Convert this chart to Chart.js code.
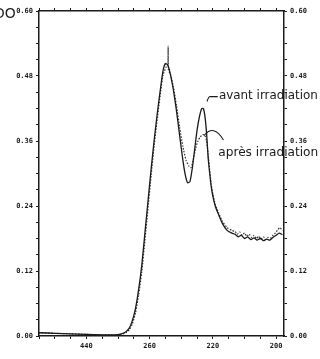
<!DOCTYPE html>
<html>
<head>
<meta charset="utf-8">
<script src="https://cdn.jsdelivr.net/npm/chart.js@4.4.0/dist/chart.umd.min.js"></script>
<style>
  html, body { margin: 0; padding: 0; background: #fff; }
  canvas { display: block; }
</style>
</head>
<body>
<canvas id="spectre" width="320" height="359"></canvas>
<script>
// longueur d'onde (nm) et densite optique
const nmAvant = [330, 320, 310, 300, 290, 282, 278, 275, 273, 271, 269, 267, 265, 263, 261, 259, 257, 255, 253, 251.5, 250, 248.5, 247, 245, 243, 241, 239, 237.5, 236, 234.5, 233, 231.5, 230, 228.5, 227, 226, 225, 224, 223, 222, 221, 220, 218.5, 216.5, 214, 211, 208, 206, 204, 202, 200, 198, 196, 194, 192, 190, 188, 186, 184, 182, 180, 178, 176];
const doAvant = [0.006, 0.005, 0.004, 0.003, 0.002, 0.002, 0.004, 0.008, 0.014, 0.028, 0.05, 0.085, 0.13, 0.19, 0.25, 0.31, 0.365, 0.415, 0.46, 0.49, 0.503, 0.5, 0.485, 0.455, 0.415, 0.37, 0.325, 0.298, 0.283, 0.285, 0.31, 0.345, 0.38, 0.405, 0.42, 0.42, 0.405, 0.375, 0.33, 0.3, 0.275, 0.258, 0.24, 0.225, 0.208, 0.195, 0.19, 0.188, 0.183, 0.186, 0.18, 0.183, 0.178, 0.181, 0.177, 0.18, 0.176, 0.179, 0.177, 0.182, 0.186, 0.19, 0.187];

const nmApres = [330, 320, 310, 300, 290, 282, 278, 275, 273, 271, 269, 267, 265, 263, 261, 259, 257, 255, 253, 251.5, 249.5, 248.5, 248.3, 248.1, 247, 245, 243, 241, 239, 237, 235, 233.8, 232.5, 231, 229.5, 228, 226.5, 225, 224, 223, 222, 221, 220, 218.5, 216.5, 214, 211, 208, 206, 204.5, 203, 201.5, 200, 198.5, 197, 195.5, 194, 192.5, 191, 189.5, 188, 186.5, 185, 183.5, 182, 180.5, 179, 177.5, 176];
const doApres = [0.006, 0.005, 0.004, 0.003, 0.002, 0.002, 0.003, 0.006, 0.011, 0.022, 0.042, 0.075, 0.118, 0.176, 0.237, 0.298, 0.355, 0.405, 0.452, 0.482, 0.497, 0.5, 0.535, 0.49, 0.485, 0.46, 0.425, 0.385, 0.35, 0.325, 0.313, 0.311, 0.325, 0.345, 0.36, 0.367, 0.372, 0.37, 0.36, 0.335, 0.305, 0.28, 0.262, 0.243, 0.228, 0.212, 0.2, 0.195, 0.193, 0.188, 0.192, 0.186, 0.19, 0.184, 0.188, 0.182, 0.186, 0.18, 0.184, 0.179, 0.183, 0.178, 0.182, 0.181, 0.186, 0.19, 0.196, 0.2, 0.194];

// graduations
const xTickValues = [300, 260, 220, 180];
const xTickLabels = ['440', '260', '220', '200'];
const yTickLabels = ['0.00', '0.12', '0.24', '0.36', '0.48', '0.60'];
const labelAvant = 'avant irradiation';
const labelApres = 'après irradiation';
const labelAxe = 'DO';

const tickFont = { family: 'DejaVu Sans Mono', size: 7, weight: 'bold' };
const ink = '#1a1a1a';

const toPoints = (xs, ys) => xs.map((x, i) => ({ x: x, y: ys[i] }));

const xTicks = (scale) => {
    const t = [];
    for (let v = 180; v <= 330; v += 10) t.push({ value: v });
    scale.ticks = t;
};
const yTicks = (scale) => {
    const t = [];
    for (let i = 0; i <= 20; i++) t.push({ value: +(i * 0.03).toFixed(2) });
    scale.ticks = t;
};
const xLabel = (value) => {
    const k = xTickValues.indexOf(value);
    return k >= 0 ? xTickLabels[k] : '';
};
const yLabel = (value, index) => (index % 4 === 0 ? yTickLabels[index / 4] : '');

const axisBase = {
    type: 'linear',
    grid: { drawOnChartArea: false, tickLength: 3, color: ink, lineWidth: 1 },
    border: { color: ink, width: 1.5 },
};

const annotations = {
    id: 'annotations',
    afterDraw(chart) {
        const c = chart.ctx;
        const sx = chart.scales.x, sy = chart.scales.y;
        const px = (v) => sx.getPixelForValue(v);
        const py = (v) => sy.getPixelForValue(v);
        c.save();
        c.strokeStyle = ink;
        c.fillStyle = ink;
        c.lineWidth = 1.1;

        // fleche "avant"
        c.beginPath();
        c.moveTo(px(223.7), py(0.433));
        c.quadraticCurveTo(px(222.6), py(0.443), px(221.5), py(0.442));
        c.lineTo(px(216.9), py(0.442));
        c.stroke();

        // fleche "apres"
        c.beginPath();
        c.moveTo(px(225.6), py(0.370));
        c.quadraticCurveTo(px(219.5), py(0.392), px(213.3), py(0.362));
        c.stroke();

        const writeFit = (txt, x, y, w) => {
            c.font = '13px "DejaVu Sans"';
            c.textBaseline = 'middle';
            const m = c.measureText(txt).width;
            c.save();
            c.translate(x, y);
            c.scale(w / m, 1);
            c.fillText(txt, 0, 0);
            c.restore();
        };
        writeFit(labelAvant, px(216.2), py(0.443), 99);
        writeFit(labelApres, px(216.6), py(0.339), 100);

        c.font = '14px "DejaVu Sans"';
        c.textBaseline = 'middle';
        c.fillText(labelAxe, -6, 14);
        c.restore();
    }
};

const ctx = document.getElementById('spectre').getContext('2d');

new Chart(ctx, {
    type: 'line',
    data: {
        datasets: [{
            label: labelAvant,
            data: toPoints(nmAvant, doAvant),
            borderColor: ink,
            borderWidth: 1.3,
            pointRadius: 0,
            tension: 0.2,
            fill: false,
        }, {
            label: labelApres,
            data: toPoints(nmApres, doApres),
            borderColor: '#333',
            borderWidth: 1.2,
            borderDash: [1.5, 1.5],
            pointRadius: 0,
            tension: 0.2,
            fill: false,
        }]
    },
    options: {
        responsive: false,
        animation: false,
        parsing: false,
        layout: { padding: 0 },
        plugins: { legend: { display: false }, tooltip: { enabled: false } },
        scales: {
            x: {
                ...axisBase, position: 'bottom', reverse: true, min: 175, max: 330,
                afterBuildTicks: xTicks,
                afterFit: (s) => { s.height = 23; },
                ticks: { autoSkip: false, maxRotation: 0, padding: 3, font: tickFont, color: ink, callback: xLabel },
            },
            x2: {
                ...axisBase, position: 'top', reverse: true, min: 175, max: 330,
                afterBuildTicks: xTicks,
                afterFit: (s) => { s.height = 11; },
                ticks: { autoSkip: false, maxRotation: 0, font: tickFont, callback: () => '' },
            },
            y: {
                ...axisBase, position: 'left', min: 0, max: 0.6,
                afterBuildTicks: yTicks,
                afterFit: (s) => { s.width = 39; },
                ticks: { autoSkip: false, padding: 3, font: tickFont, color: ink, callback: yLabel },
            },
            y2: {
                ...axisBase, position: 'right', min: 0, max: 0.6,
                afterBuildTicks: yTicks,
                afterFit: (s) => { s.width = 36; },
                ticks: { autoSkip: false, padding: 3, font: tickFont, color: ink, callback: yLabel },
            },
        }
    },
    plugins: [annotations]
});
</script>
</body>
</html>
